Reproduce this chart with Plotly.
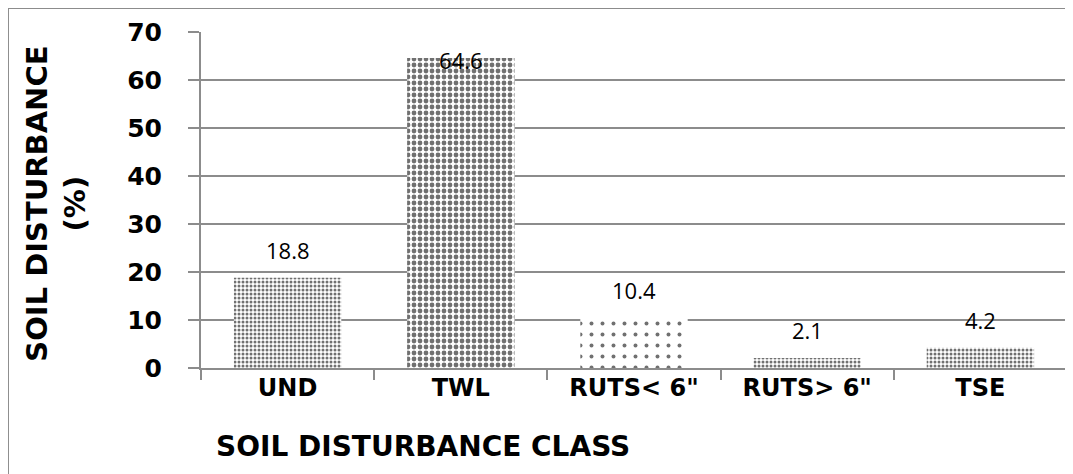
import plotly.graph_objects as go

# data
categories = ["UND", "TWL", "RUTS< 6\"", "RUTS> 6\"", "TSE"]
disturbance_pct = [18.8, 64.6, 10.4, 2.1, 4.2]
value_labels = ["18.8", "64.6", "10.4", "2.1", "4.2"]
y_ticks = [0, 10, 20, 30, 40, 50, 60, 70]

# fill pattern per bar (the original uses Excel dot patterns)
pattern_sizes = [4, 6, 11, 4, 4]
pattern_solidity = [0.45, 0.5, 0.1, 0.45, 0.45]

AXIS_FONT = "DejaVu Sans"
GREY = "#8c8c8c"

fig = go.Figure()

fig.add_trace(go.Bar(
    x=categories,
    y=disturbance_pct,
    marker=dict(
        color="white",
        line=dict(width=0),
        pattern=dict(
            shape=".",
            size=pattern_sizes,
            solidity=pattern_solidity,
            fgcolor="#707070",
            bgcolor="white",
            fillmode="replace",
        ),
    ),
    hoverinfo="x+y",
    showlegend=False,
))

# data labels sit above each bar; the tall one is pulled back inside the plot
for cat, val, lab in zip(categories, disturbance_pct, value_labels):
    shift = 28 if val < 60 else -2
    fig.add_annotation(
        x=cat, y=val, text=lab, showarrow=False,
        yanchor="middle", yshift=shift,
        font=dict(family="Open Sans", size=22, color="black"),
    )

# axis titles as annotations (the x title is left of centre in the original)
fig.add_annotation(
    xref="paper", yref="paper", x=0.256, y=-0.235,
    text="SOIL DISTURBANCE CLASS", showarrow=False,
    xanchor="center", yanchor="middle",
    font=dict(family=AXIS_FONT, size=28, color="black", weight="bold"),
)
fig.add_annotation(
    xref="paper", yref="paper", x=-0.167, y=0.49,
    text="SOIL DISTURBANCE<br>(%)", showarrow=False,
    textangle=-90, xanchor="center", yanchor="middle",
    font=dict(family=AXIS_FONT, size=29, color="black", weight="bold"),
)

# outer chart border
fig.add_shape(
    type="rect", xref="paper", yref="paper",
    x0=-0.2229, x1=1.5, y0=-0.8, y1=1.0714,
    line=dict(color=GREY, width=2), fillcolor="rgba(0,0,0,0)",
    layer="below",
)

# the page adds an 8px body margin, so the figure is offset by that much
fig.update_layout(
    width=1073,
    height=474,
    margin=dict(l=193, r=14, t=24, b=114, autoexpand=False),
    paper_bgcolor="white",
    plot_bgcolor="white",
    bargap=0.38,
    xaxis=dict(
        automargin=False,
        showgrid=False,
        showline=True,
        linecolor=GREY,
        linewidth=2,
        ticks="outside",
        tickson="boundaries",
        ticklen=10,
        tickwidth=2,
        tickcolor=GREY,
        ticklabelstandoff=-3,
        tickfont=dict(family=AXIS_FONT, size=24, color="black", weight="bold"),
    ),
    yaxis=dict(
        automargin=False,
        range=[0, 70],
        tickvals=y_ticks,
        showgrid=True,
        gridcolor=GREY,
        gridwidth=2,
        showline=True,
        linecolor=GREY,
        linewidth=2,
        zeroline=False,
        ticks="outside",
        ticklen=11,
        tickwidth=2,
        tickcolor=GREY,
        ticklabelstandoff=21,
        tickfont=dict(family=AXIS_FONT, size=25, color="black", weight="bold"),
    ),
)

fig.write_html("out.html")
